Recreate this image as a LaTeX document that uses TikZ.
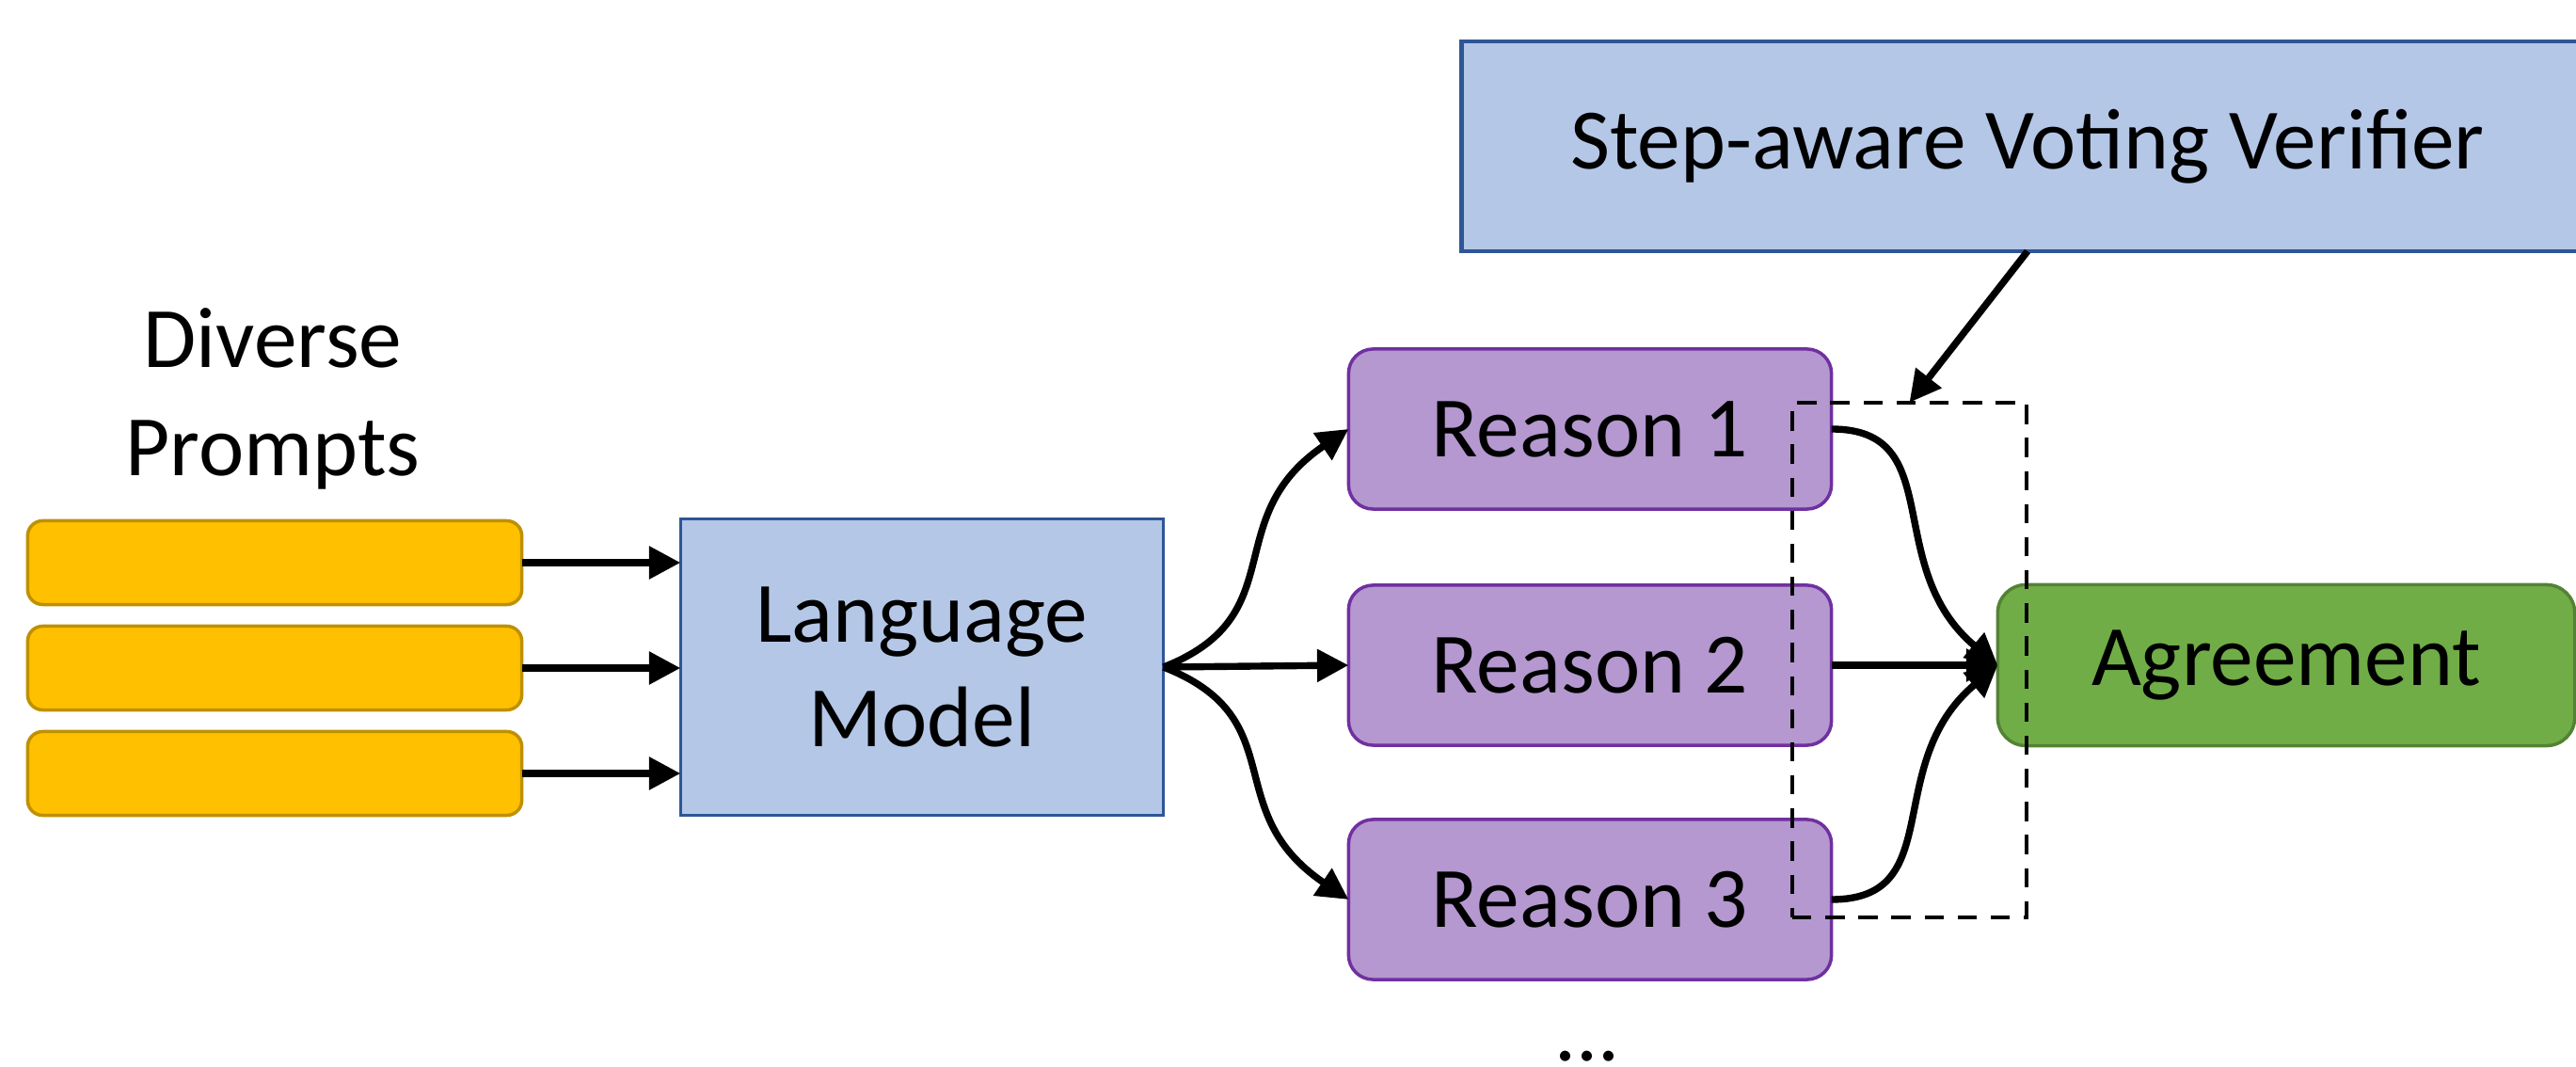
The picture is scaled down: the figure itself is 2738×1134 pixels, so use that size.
\documentclass[tikz,border=0pt]{standalone}
\usepackage{fontspec}
\setmainfont{Carlito}
\usetikzlibrary{arrows.meta}

\definecolor{promptfill}{HTML}{FFC000}
\definecolor{promptline}{HTML}{BF9000}
\definecolor{bluefill}{HTML}{B4C7E7}
\definecolor{blueline}{HTML}{2F5597}
\definecolor{reasonfill}{HTML}{B498CF}
\definecolor{reasonline}{HTML}{7030A0}
\definecolor{agreefill}{HTML}{70AD47}
\definecolor{agreeline}{HTML}{548235}

\tikzset{
  base/.style={inner sep=0pt, outer sep=0pt, line width=1pt,
    font=\fontsize{26}{31.5}\selectfont, align=center, text=black},
  promptbox/.style={base, draw=promptline, fill=promptfill, rounded corners=0.16cm,
    minimum width=5.25cm, minimum height=0.89cm},
  modelbox/.style={base, draw=blueline, fill=bluefill,
    minimum width=5.13cm, minimum height=3.15cm},
  reasonbox/.style={base, draw=reasonline, fill=reasonfill, rounded corners=0.26cm,
    minimum width=5.13cm, minimum height=1.70cm},
  agreebox/.style={base, draw=agreeline, fill=agreefill, rounded corners=0.3cm,
    minimum width=6.13cm, minimum height=1.71cm},
  verifierbox/.style={base, draw=blueline, fill=bluefill, line width=1.3pt,
    minimum width=12.02cm, minimum height=2.23cm},
  groupbox/.style={base, draw=black, dash pattern=on 5.8pt off 4.2pt, line width=1.3pt,
    minimum width=2.49cm, minimum height=5.47cm},
  label/.style={base},
  link/.style={line width=2.1pt, -{Triangle[length=9.5pt,width=9.5pt]}},
}

\begin{document}
\begin{tikzpicture}[x=0.01cm, y=-0.01cm]
  \useasboundingbox (0,0) rectangle (2738,1134);

  % inputs
  \node[label, font=\fontsize{26}{32.5}\selectfont] (title) at (290,424) {Diverse\\Prompts};
  \node[promptbox] (p1) at (292,598) {};
  \node[promptbox] (p2) at (292,710) {};
  \node[promptbox] (p3) at (292,822) {};

  % model
  \node[modelbox] (lm) at (980,709) {Language\\Model};

  % sampled reasoning paths
  \node[reasonbox] (r1) at (1690,456) {Reason 1};
  \node[reasonbox] (r2) at (1690,707) {Reason 2};
  \node[reasonbox] (r3) at (1690,956) {Reason 3};
  \node[label, anchor=base, text depth=0pt] (dots) at (1687,1127) {...};

  % result
  \node[agreebox] (ag) at (2430,707) {Agreement};

  % verifier
  \node[verifierbox] (sv) at (2155,155.5) {Step-aware Voting Verifier};

  % prompts into the model
  \draw[link] (p1.east) -- (p1.east -| lm.west);
  \draw[link] (p2.east) -- (p2.east -| lm.west);
  \draw[link] (p3.east) -- (p3.east -| lm.west);

  % model fans out to the reasons
  \draw[link] (lm.east) .. controls +(140,-55) and +(-140,95) .. (r1.west);
  \draw[link] (lm.east) -- (r2.west);
  \draw[link] (lm.east) .. controls +(140,55) and +(-140,-95) .. (r3.west);

  % reasons merge into the agreement
  \draw[link] (r1.east) .. controls +(125,0) and +(-125,-105) .. (ag.west);
  \draw[link] (r2.east) -- (ag.west);
  \draw[link] (r3.east) .. controls +(125,0) and +(-125,105) .. (ag.west);

  % verifier over the reasoning steps
  \node[groupbox] (grp) at (2029.5,701.5) {};
  \draw[link] (sv.south) -- (grp.north);
\end{tikzpicture}
\end{document}
